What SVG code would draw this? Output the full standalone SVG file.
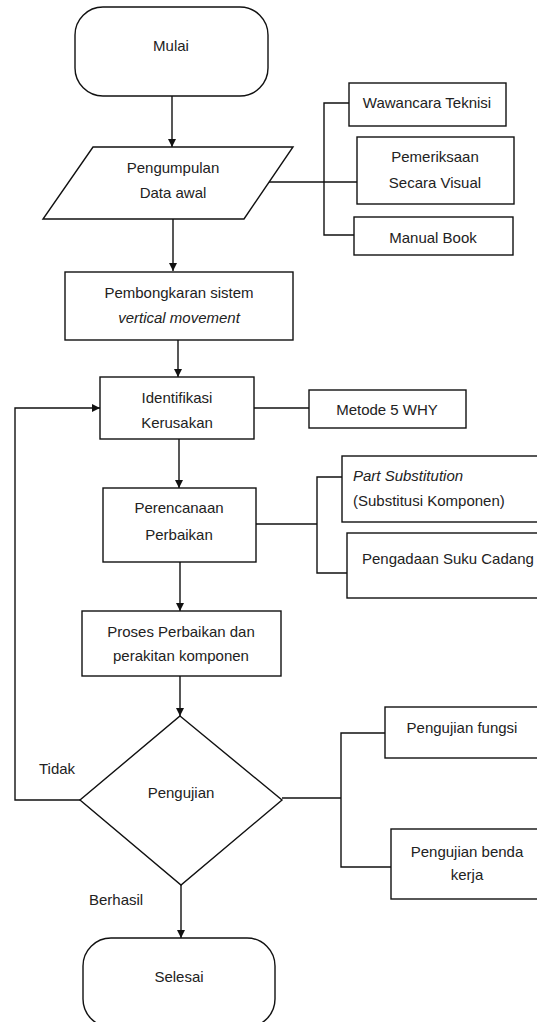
<svg xmlns="http://www.w3.org/2000/svg" width="537" height="1022" viewBox="0 0 537 1022">
<defs>
<marker id="arr" viewBox="0 0 10 10" refX="10" refY="5" markerWidth="8" markerHeight="8" markerUnits="userSpaceOnUse" orient="auto">
<path d="M0,0 L10,5 L0,10 z" fill="#111"/>
</marker>
<style>
.s{fill:#fff;stroke:#111;stroke-width:1.4}
.l{fill:none;stroke:#111;stroke-width:1.4}
.a{fill:none;stroke:#111;stroke-width:1.4;marker-end:url(#arr)}
text{font-family:"Liberation Sans",Arial,sans-serif;font-size:15px;fill:#222}
.c{text-anchor:middle}
.i{font-style:italic}
</style>
</defs>
<rect width="537" height="1022" fill="#fff"/>
<g id="connectors">
<line class="a" x1="172" y1="96" x2="172" y2="147"/>
<line class="a" x1="173" y1="219" x2="173" y2="271"/>
<line class="a" x1="178" y1="340" x2="178" y2="377"/>
<line class="a" x1="179" y1="439" x2="179" y2="488"/>
<line class="a" x1="180" y1="562" x2="180" y2="611"/>
<line class="a" x1="180" y1="676" x2="180" y2="716"/>
<line class="a" x1="181" y1="885" x2="181" y2="938"/>
<polyline class="a" points="80,800 15,800 15,408 100,408"/>
<line class="l" x1="269" y1="182" x2="357" y2="182"/>
<polyline class="l" points="349,103 324,103 324,235 354,235"/>
<line class="l" x1="254" y1="408" x2="309" y2="408"/>
<line class="l" x1="256" y1="524" x2="317" y2="524"/>
<polyline class="l" points="342,477 317,477 317,573 347,573"/>
<line class="l" x1="282" y1="798" x2="341" y2="798"/>
<polyline class="l" points="385,733 341,733 341,867 391,867"/>
</g>
<g id="mulai">
<rect class="s" x="75" y="7" width="193" height="89" rx="28" ry="28"/>
<text class="c" x="171" y="51">Mulai</text>
</g>
<g id="pengumpulan">
<polygon class="s" points="93,147 293,147 244,219 43,219"/>
<text class="c" x="173" y="173">Pengumpulan</text>
<text class="c" x="173" y="198">Data awal</text>
</g>
<g id="wawancara">
<rect class="s" x="349" y="83" width="157" height="43"/>
<text class="c" x="427" y="108">Wawancara Teknisi</text>
</g>
<g id="pemeriksaan">
<rect class="s" x="357" y="137" width="157" height="67"/>
<text class="c" x="435" y="162">Pemeriksaan</text>
<text class="c" x="435" y="188">Secara Visual</text>
</g>
<g id="manual">
<rect class="s" x="354" y="217" width="159" height="38"/>
<text class="c" x="433" y="243">Manual Book</text>
</g>
<g id="pembongkaran">
<rect class="s" x="65" y="272" width="228" height="68"/>
<text class="c" x="179" y="298">Pembongkaran sistem</text>
<text class="c i" x="179" y="323">vertical movement</text>
</g>
<g id="identifikasi">
<rect class="s" x="100" y="377" width="154" height="62"/>
<text class="c" x="177" y="403">Identifikasi</text>
<text class="c" x="177" y="428">Kerusakan</text>
</g>
<g id="metode">
<rect class="s" x="309" y="390" width="157" height="38"/>
<text class="c" x="387" y="415">Metode 5 WHY</text>
</g>
<g id="perencanaan">
<rect class="s" x="103" y="488" width="153" height="74"/>
<text class="c" x="179" y="513">Perencanaan</text>
<text class="c" x="179" y="540">Perbaikan</text>
</g>
<g id="part-substitution">
<rect class="s" x="342" y="456" width="210" height="66"/>
<text class="i" x="353" y="481">Part Substitution</text>
<text x="353" y="506">(Substitusi Komponen)</text>
</g>
<g id="pengadaan">
<rect class="s" x="347" y="533" width="210" height="65"/>
<text x="362" y="564">Pengadaan Suku Cadang</text>
</g>
<g id="proses">
<rect class="s" x="82" y="611" width="199" height="65"/>
<text class="c" x="181" y="637">Proses Perbaikan dan</text>
<text class="c" x="181" y="661">perakitan komponen</text>
</g>
<g id="pengujian">
<polygon class="s" points="180,716 282,800 181,885 80,800"/>
<text class="c" x="181" y="798">Pengujian</text>
</g>
<g id="pengujian-fungsi">
<rect class="s" x="385" y="707" width="165" height="51"/>
<text class="c" x="462" y="733">Pengujian fungsi</text>
</g>
<g id="pengujian-benda">
<rect class="s" x="391" y="829" width="165" height="70"/>
<text class="c" x="467" y="857">Pengujian benda</text>
<text class="c" x="467" y="880">kerja</text>
</g>
<g id="labels">
<text x="39" y="774">Tidak</text>
<text x="89" y="905">Berhasil</text>
</g>
<g id="selesai">
<rect class="s" x="83" y="938" width="192" height="89" rx="28" ry="28"/>
<text class="c" x="179" y="982">Selesai</text>
</g>
</svg>
